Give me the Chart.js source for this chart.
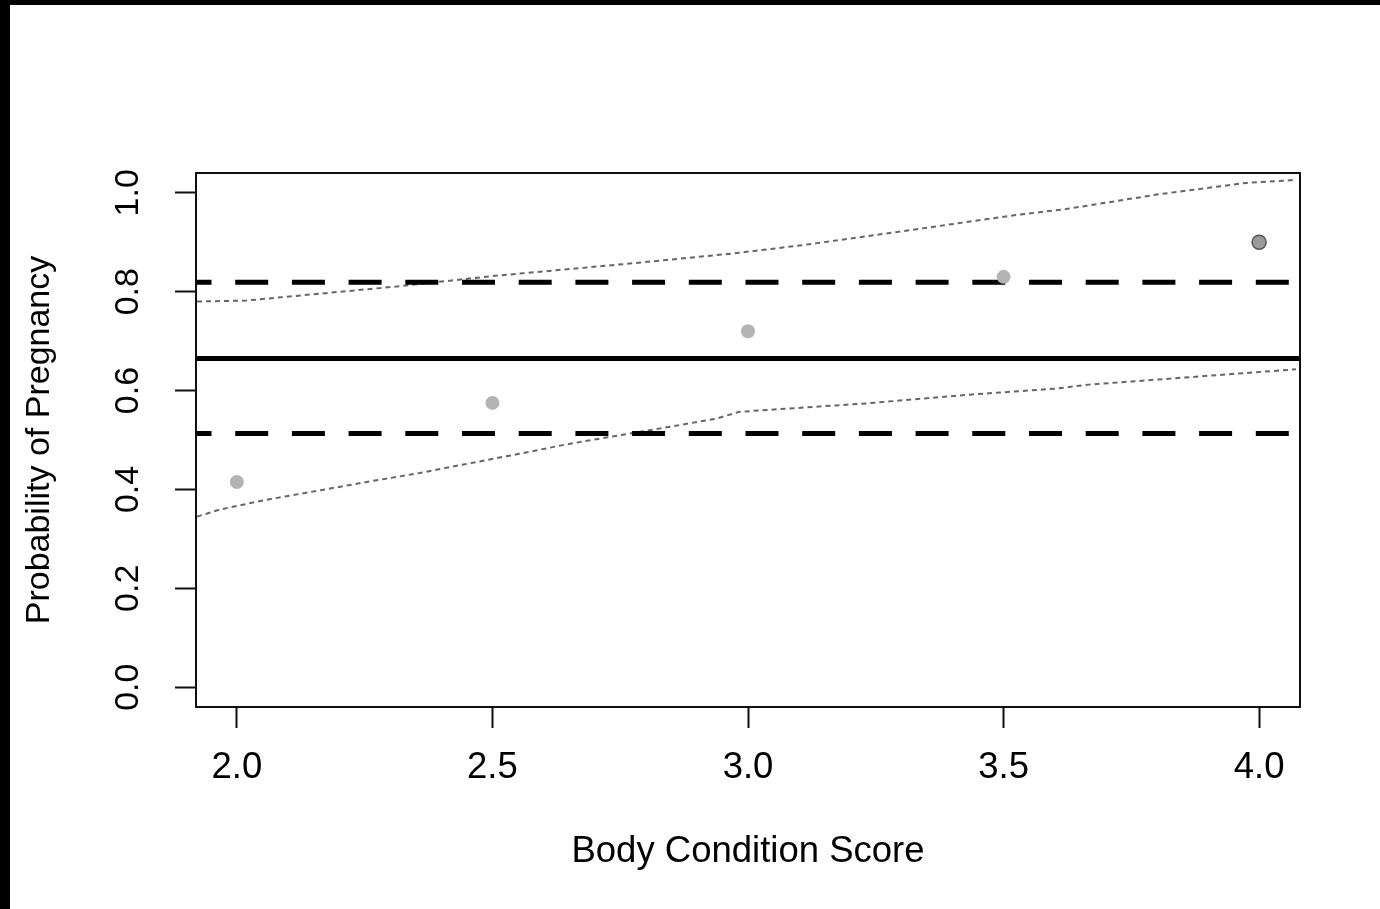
<!DOCTYPE html>
<html>
<head>
<meta charset="utf-8">
<script src="https://cdn.jsdelivr.net/npm/chart.js@4"></script>
<style>
  html, body { margin: 0; padding: 0; background: #000; }
  #wrap { position: absolute; left: 10px; top: 5px; width: 1370px; height: 904px; background: #fff; }
</style>
</head>
<body>
<div id="wrap"><canvas id="myChart" width="1370" height="904"></canvas></div>
<script>
// observed proportions by body condition score
const bcs = [2.0, 2.5, 3.0, 3.5, 4.0];
const pregProb = [0.415, 0.575, 0.72, 0.83, 0.90];

// reference lines (overall mean and its limits)
const lineSpan = [1.92, 4.08];
const meanProb = 0.665;
const upperLimit = 0.819;
const lowerLimit = 0.513;

// dotted band
const upperBandX = [1.922, 2.018, 2.318, 2.494, 2.781, 2.977, 3.106, 3.341, 3.524, 3.622, 3.804, 3.975, 4.072];
const upperBandY = [0.780, 0.782, 0.811, 0.831, 0.858, 0.878, 0.894, 0.928, 0.955, 0.967, 0.997, 1.020, 1.026];
const lowerBandX = [1.922, 1.965, 2.057, 2.167, 2.259, 2.351, 2.441, 2.552, 2.644, 2.734, 2.826, 2.937, 2.983, 3.231, 3.438, 3.603, 3.667, 4.072];
const lowerBandY = [0.345, 0.359, 0.379, 0.399, 0.416, 0.432, 0.450, 0.472, 0.491, 0.507, 0.523, 0.543, 0.557, 0.574, 0.592, 0.604, 0.612, 0.643];

const xTicks = [2.0, 2.5, 3.0, 3.5, 4.0];
const yTicks = [0.0, 0.2, 0.4, 0.6, 0.8, 1.0];

const pts = (xs, ys) => xs.map((x, i) => ({ x: x, y: ys[i] }));
const hline = (v) => lineSpan.map(x => ({ x: x, y: v }));

// box around the plot region, like R's default bty="o"
const frame = {
  id: 'frame',
  afterDatasetsDraw(chart) {
    const { ctx, chartArea: a } = chart;
    ctx.save();
    ctx.strokeStyle = '#111';
    ctx.lineWidth = 2;
    ctx.strokeRect(a.left, a.top, a.right - a.left, a.bottom - a.top);
    ctx.restore();
  }
};

const ctx = document.getElementById('myChart');
new Chart(ctx, {
  type: 'scatter',
  data: {
    datasets: [
      {
        data: pts(bcs, pregProb),
        pointRadius: 7,
        pointBackgroundColor: ['#b4b4b4', '#b4b4b4', '#b4b4b4', '#b4b4b4', '#9a9a9a'],
        pointBorderColor: ['#b4b4b4', '#b4b4b4', '#b4b4b4', '#b4b4b4', '#555'],
        pointBorderWidth: [0, 0, 0, 0, 1.5],
        showLine: false
      },
      {
        data: hline(meanProb), showLine: true, pointRadius: 0,
        borderColor: '#000', borderWidth: 5
      },
      {
        data: hline(upperLimit), showLine: true, pointRadius: 0,
        borderColor: '#000', borderWidth: 5, borderDash: [33, 23.7], borderDashOffset: 17.5
      },
      {
        data: hline(lowerLimit), showLine: true, pointRadius: 0,
        borderColor: '#000', borderWidth: 5, borderDash: [33, 23.7], borderDashOffset: 17.5
      },
      {
        data: pts(upperBandX, upperBandY), showLine: true, pointRadius: 0,
        borderColor: '#666', borderWidth: 2, borderDash: [5, 4]
      },
      {
        data: pts(lowerBandX, lowerBandY), showLine: true, pointRadius: 0,
        borderColor: '#666', borderWidth: 2, borderDash: [5, 4]
      }
    ]
  },
  options: {
    responsive: false,
    animation: false,
    devicePixelRatio: 1,
    layout: { padding: { left: 0, top: 168, right: 80, bottom: 0 } },
    plugins: { legend: { display: false }, tooltip: { enabled: false } },
    scales: {
      x: {
        type: 'linear',
        min: 1.92,
        max: 4.08,
        afterBuildTicks: (s) => { s.ticks = xTicks.map(v => ({ value: v })); },
        afterFit: (s) => { s.height = 202; },
        grid: { drawOnChartArea: false, tickLength: 21, tickWidth: 2, tickColor: '#111' },
        border: { display: false },
        ticks: {
          color: '#000',
          padding: 18,
          maxRotation: 0,
          font: { family: 'Liberation Sans, Arial, sans-serif', size: 36.5, lineHeight: 1.2 },
          callback: (v) => v.toFixed(1)
        },
        title: {
          display: true,
          text: 'Body Condition Score',
          color: '#000',
          padding: { top: 0, bottom: 35 },
          font: { family: 'Liberation Sans, Arial, sans-serif', size: 36.5, lineHeight: 1.2 }
        }
      },
      y: {
        min: -0.04,
        max: 1.04,
        afterBuildTicks: (s) => { s.ticks = yTicks.map(v => ({ value: v })); },
        afterFit: (s) => { s.width = 186; },
        grid: { drawOnChartArea: false, tickLength: 21, tickWidth: 2, tickColor: '#111' },
        border: { display: false },
        ticks: {
          color: '#000',
          padding: 23,
          minRotation: 90,
          maxRotation: 90,
          crossAlign: 'center',
          font: { family: 'Liberation Sans, Arial, sans-serif', size: 34, lineHeight: 1.2 },
          callback: (v) => v.toFixed(1)
        },
        title: {
          display: true,
          text: 'Probability of Pregnancy',
          color: '#000',
          padding: { top: 9.6, bottom: 0 },
          font: { family: 'Liberation Sans, Arial, sans-serif', size: 34, lineHeight: 1.2 }
        }
      }
    }
  },
  plugins: [frame]
});
</script>
</body>
</html>
